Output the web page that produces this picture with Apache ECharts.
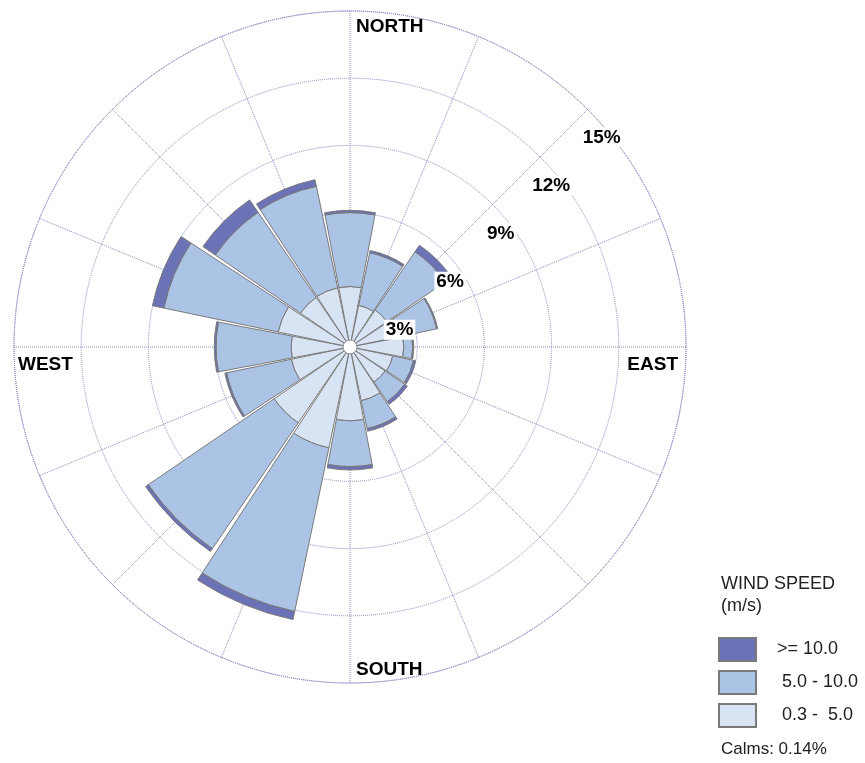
<!DOCTYPE html>
<html>
<head>
<meta charset="utf-8">
<script src="https://cdn.jsdelivr.net/npm/echarts@6/dist/echarts.min.js"></script>
<style>
html,body{margin:0;padding:0;background:#fff;}
#chart{width:865px;height:763px;}
</style>
</head>
<body>
<div id="chart"></div>
<script>
// ---- data ----
const directions = ['N','NNE','NE','ENE','E','ESE','SE','SSE','S','SSW','SW','WSW','W','WNW','NW','NNW'];
const speedBins = ['0.3 -  5.0', '5.0 - 10.0', '>= 10.0'];
const speedLow  = [2.7, 1.9, 2.0, 2.3, 2.4, 1.95, 1.9, 2.45, 3.3, 4.6, 4.1, 2.68, 2.63, 3.28, 2.68, 2.7];
const speedMid  = [3.3, 2.4, 3.15, 1.65, 0.4, 0.95, 1.05, 1.27, 2.04, 7.46, 6.8, 2.95, 3.35, 5.21, 4.6, 4.63];
const speedHigh = [0.1, 0.1, 0.35, 0.05, 0.05, 0.1, 0.15, 0.12, 0.15, 0.37, 0.15, 0.08, 0.08, 0.52, 0.67, 0.3];
const ringTicks = [3, 6, 9, 12, 15];
const compassLabels = ['NORTH', 'EAST', 'SOUTH', 'WEST'];
const legendTitle = 'WIND SPEED\n(m/s)';
const calmsText = 'Calms: 0.14%';

// ---- layout ----
const cx = 350, cy = 347, R = 336;
const FONT = '"Liberation Sans", Arial, sans-serif';
const gridColor = '#8585c2';
const colors = ['#d8e3f3', '#abc4e6', '#6b72b6'];
const rMax = ringTicks[ringTicks.length - 1];
const step = ringTicks[1] - ringTicks[0];

const chart = echarts.init(document.getElementById('chart'), null, {renderer: 'canvas'});

const seriesValues = [speedLow, speedMid, speedHigh];
const series = speedBins.map((name, i) => ({
  type: 'bar',
  name: name,
  coordinateSystem: 'polar',
  polarIndex: 0,
  stack: 'wind',
  data: seriesValues[i],
  barCategoryGap: '5%',
  itemStyle: { color: colors[i], borderColor: '#7a7a7a', borderWidth: 1 },
  emphasis: { disabled: true },
  z: 2
}));

const legendOrder = speedBins.slice().reverse();
const legendLabel = {'>= 10.0': '>= 10.0', '5.0 - 10.0': ' 5.0 - 10.0', '0.3 -  5.0': ' 0.3 -  5.0'};

const option = {
  backgroundColor: '#fff',
  animation: false,
  polar: [
    { center: [cx, cy], radius: R },
    { center: [cx, cy], radius: R },
    { center: [cx - 1, cy + 31], radius: 349 }
  ],
  angleAxis: [
    { polarIndex: 0, type: 'category', data: directions, startAngle: 90 + 360 / directions.length / 2,
      clockwise: true, axisLine: {show: false}, axisTick: {show: false}, axisLabel: {show: false},
      splitLine: {show: false} },
    { polarIndex: 1, type: 'value', min: 0, max: 360, interval: 360 / directions.length, startAngle: 90,
      clockwise: true,
      axisLine: {show: true, lineStyle: {color: gridColor, type: 'dotted', width: 1}},
      axisTick: {show: false}, axisLabel: {show: false},
      splitLine: {show: true, lineStyle: {color: gridColor, type: 'dotted', width: 1}} },
    { polarIndex: 2, type: 'value', min: 0, max: 360, startAngle: 43.6, show: false }
  ],
  radiusAxis: [
    { polarIndex: 0, min: 0, max: rMax, show: false },
    { polarIndex: 1, min: 0, max: rMax, interval: step,
      axisLine: {show: false}, axisTick: {show: false}, axisLabel: {show: false},
      splitLine: {show: true, lineStyle: {color: gridColor, type: 'dotted', width: 1}} },
    { polarIndex: 2, min: 0, max: rMax, interval: step, z: 6,
      axisLine: {show: false}, axisTick: {show: false}, splitLine: {show: false},
      axisLabel: {show: true, showMinLabel: false, showMaxLabel: true, margin: 0,
        align: 'center', verticalAlign: 'middle',
        formatter: v => v + '%', color: '#000', fontSize: 19, fontWeight: 'bold', fontFamily: FONT,
        backgroundColor: '#fff', padding: [1, 2, 0, 2]} }
  ],
  legend: {
    orient: 'vertical', left: 718, top: 637, padding: 0,
    itemWidth: 37, itemHeight: 23, itemGap: 8,
    data: legendOrder, icon: 'rect',
    selectedMode: false,
    formatter: name => '{t|' + legendLabel[name] + '}',
    textStyle: { color: '#222', fontSize: 18, fontFamily: FONT, lineHeight: 23,
      rich: { t: { padding: [0, 0, 0, 16], fontSize: 18, lineHeight: 23, fontFamily: FONT, color: '#222' } } }
  },
  title: [
    { text: legendTitle, left: 716, top: 568,
      textStyle: { fontSize: 18, fontWeight: 'normal', color: '#222', fontFamily: FONT, lineHeight: 22 } },
    { text: calmsText, left: 716, top: 736,
      textStyle: { fontSize: 17, fontWeight: 'normal', color: '#222', fontFamily: FONT } }
  ],
  graphic: [
    { type: 'circle', shape: {cx: cx, cy: cy, r: 7}, style: {fill: '#fff', stroke: '#888', lineWidth: 1}, z: 100 },
    { type: 'text', x: cx + 6, y: cy - 320, z: 100,
      style: {text: compassLabels[0], font: 'bold 19px ' + FONT, fill: '#000', textAlign: 'left', textVerticalAlign: 'middle'} },
    { type: 'text', x: cx + 328, y: cy + 18, z: 100,
      style: {text: compassLabels[1], font: 'bold 19px ' + FONT, fill: '#000', textAlign: 'right', textVerticalAlign: 'middle'} },
    { type: 'text', x: cx + 6, y: cy + 323, z: 100,
      style: {text: compassLabels[2], font: 'bold 19px ' + FONT, fill: '#000', textAlign: 'left', textVerticalAlign: 'middle'} },
    { type: 'text', x: cx - 332, y: cy + 18, z: 100,
      style: {text: compassLabels[3], font: 'bold 19px ' + FONT, fill: '#000', textAlign: 'left', textVerticalAlign: 'middle'} }
  ],
  series: series
};
chart.setOption(option);
</script>
</body>
</html>
